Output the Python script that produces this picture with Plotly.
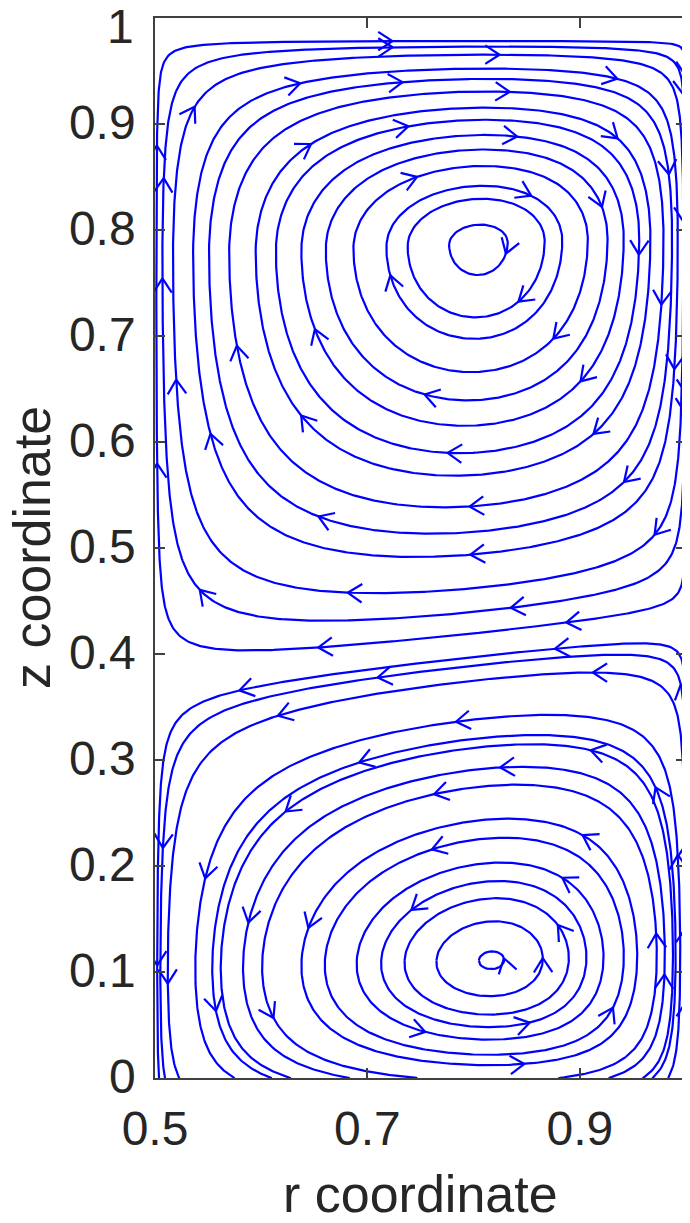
import numpy as np
import plotly.graph_objects as go

# geometry of the two cells
r_min, r_max = 0.5, 1.0
z_top = 0.98               # upper cell closes just under z = 1
z_split_left = 0.375       # dividing line height at r = 0.5
z_split_right = 0.43       # dividing line height at r = 1

upper_centre = (0.805, 0.787)
lower_centre = (0.817, 0.111)

# r where streamlines cross the horizontal line through each centre (left half)
upper_seed_r = [0.507, 0.517, 0.536, 0.551, 0.570, 0.595, 0.614, 0.638,
                0.661, 0.687, 0.718, 0.738, 0.777]
lower_seed_r = [0.505, 0.512, 0.538, 0.554, 0.562, 0.583, 0.601, 0.638,
                0.660, 0.690, 0.713, 0.735, 0.765, 0.805]
# z of the outermost lines crossing the vertical through each centre
upper_seed_z = [0.420]
lower_seed_z = [0.399]

x_ticks = [0.5, 0.7, 0.9]
x_tick_text = ['0.5', '0.7', '0.9']
y_ticks = [0, 0.1, 0.2, 0.3, 0.4, 0.5, 0.6, 0.7, 0.8, 0.9, 1]
y_tick_text = ['0', '0.1', '0.2', '0.3', '0.4', '0.5', '0.6', '0.7', '0.8', '0.9', '1']


def z_split(r):
    s = (r - r_min) / (r_max - r_min)
    return z_split_left + (z_split_right - z_split_left) * s


def radial(s, sc, p=0.5):
    q = p * (1 - sc) / sc
    s = np.clip(s, 1e-9, 1 - 1e-9)
    return (s / sc) ** p * ((1 - s) / (1 - sc)) ** q


def bump(x, c):
    x = np.clip(x, 0, 1)
    return (1 - (1 - x) ** 2) ** c


def psi(r, z):
    s = (r - r_min) / (r_max - r_min)
    zi = z_split(r)
    # upper cell, clockwise
    scu = (upper_centre[0] - r_min) / (r_max - r_min)
    zc = z_split(upper_centre[0])
    tcu = (upper_centre[1] - zc) / (z_top - zc)
    t = (z - zi) / (z_top - zi)
    gu = np.where(t < tcu, bump(t / tcu, 0.87), bump((1 - t) / (1 - tcu), 0.6))
    up = radial(s, scu) * gu
    # lower cell, counter clockwise, open at z = 0
    scl = (lower_centre[0] - r_min) / (r_max - r_min)
    tcl = lower_centre[1] / z_split(lower_centre[0])
    e, bl = 0.08, 0.8
    al = bl * (tcl + e) / (1 - tcl)
    t = np.clip(z / zi, 0, 1)
    gl = (t + e) ** al * (1 - t) ** bl / ((tcl + e) ** al * (1 - tcl) ** bl)
    low = -radial(s, scl) * gl
    return np.where(z >= zi, up, low)


def direction(r, z):
    h = 1e-5
    pr = (psi(r + h, z) - psi(r - h, z)) / (2 * h)
    pz = (psi(r, z + h) - psi(r, z - h)) / (2 * h)
    u, w = -pz, pr
    n = np.hypot(u, w) + 1e-12
    return u / n, w / n


def trace(r0, z0, ds, n_steps):
    r = np.array(r0, float)
    z = np.array(z0, float)
    rs, zs = [r.copy()], [z.copy()]
    alive = np.ones(len(r), bool)
    for _ in range(n_steps):
        k1 = direction(r, z)
        k2 = direction(r + 0.5 * ds * k1[0], z + 0.5 * ds * k1[1])
        k3 = direction(r + 0.5 * ds * k2[0], z + 0.5 * ds * k2[1])
        k4 = direction(r + ds * k3[0], z + ds * k3[1])
        r = r + ds / 6 * (k1[0] + 2 * k2[0] + 2 * k3[0] + k4[0])
        z = z + ds / 6 * (k1[1] + 2 * k2[1] + 2 * k3[1] + k4[1])
        r = np.where(alive, r, np.nan)
        z = np.where(alive, z, np.nan)
        rs.append(r.copy())
        zs.append(z.copy())
        alive &= (r >= r_min) & (r <= r_max) & (z >= 0) & (z <= 1)
    return np.array(rs), np.array(zs)


seed_r = np.array(upper_seed_r + lower_seed_r
                  + [upper_centre[0]] * len(upper_seed_z) + [lower_centre[0]] * len(lower_seed_z))
seed_z = np.array([upper_centre[1]] * len(upper_seed_r) + [lower_centre[1]] * len(lower_seed_r)
                  + upper_seed_z + lower_seed_z)

ds = 0.002
with np.errstate(invalid='ignore', divide='ignore'):
    fr, fz = trace(seed_r, seed_z, ds, 1700)
    br, bz = trace(seed_r, seed_z, -ds, 1700)

paths = []
for j in range(len(seed_r)):
    pr, pz = fr[:, j], fz[:, j]
    d = np.hypot(pr - seed_r[j], pz - seed_z[j])
    closed = None
    for k in range(10, len(d) - 1):
        if np.isnan(d[k + 1]):
            break
        if d[k] < 3 * ds and d[k] <= d[k - 1] and d[k] <= d[k + 1]:
            closed = k
            break
    if closed is not None:
        xr = np.append(pr[:closed], seed_r[j])
        xz = np.append(pz[:closed], seed_z[j])
    else:
        ok_f = ~np.isnan(pr)
        ok_b = ~np.isnan(br[:, j])
        xr = np.concatenate([br[:, j][ok_b][::-1], pr[ok_f][1:]])
        xz = np.concatenate([bz[:, j][ok_b][::-1], pz[ok_f][1:]])
    paths.append((xr, xz))

# streamlines
line_x, line_y = [], []
for xr, xz in paths:
    line_x += list(xr) + [None]
    line_y += list(xz) + [None]

# arrow heads along each line
arrow_x, arrow_y = [], []
spacing, head, ang = 0.3, 0.016, np.radians(33)
for i, (xr, xz) in enumerate(paths):
    seg = np.hypot(np.diff(xr), np.diff(xz))
    arc = np.concatenate([[0], np.cumsum(seg)])
    total = arc[-1]
    start = 0.06 + (0.37 * i) % spacing
    if start > total:
        start = total / 2
    for a in np.arange(start, total - 0.01, spacing):
        k = min(max(np.searchsorted(arc, a), 1), len(xr) - 2)
        dx, dy = xr[k + 1] - xr[k - 1], xz[k + 1] - xz[k - 1]
        n = np.hypot(dx, dy)
        if n == 0:
            continue
        dx, dy = dx / n, dy / n
        for sgn in (1, -1):
            c, s_ = np.cos(sgn * ang), np.sin(sgn * ang)
            wx = dx * c - dy * s_
            wy = dx * s_ + dy * c
            arrow_x += [xr[k] - head * wx, xr[k], None]
            arrow_y += [xz[k] - head * wy, xz[k], None]

fig = go.Figure()
fig.add_trace(go.Scatter(x=line_x, y=line_y, mode='lines',
                         line=dict(color='#0000ff', width=2.2),
                         hoverinfo='skip', showlegend=False))
fig.add_trace(go.Scatter(x=arrow_x, y=arrow_y, mode='lines',
                         line=dict(color='#0000ff', width=2.2),
                         hoverinfo='skip', showlegend=False))

tick_font = dict(family='Liberation Sans', size=48, color='#262626')
axis_style = dict(showgrid=False, zeroline=False, showline=True, mirror='ticks',
                  linecolor='#404040', linewidth=1.5, ticks='inside', ticklen=10,
                  tickcolor='#404040', tickwidth=1.5, automargin=False,
                  ticklabeloverflow='allow', ticklabelstandoff=8, tickfont=tick_font)
title_font = dict(family='Liberation Sans', size=52, color='#262626')

# the page body adds an 8 px offset, so the margins are shifted to compensate
fig.update_layout(
    width=690, height=1223,
    margin=dict(l=147, r=12, t=10, b=153),
    plot_bgcolor='white', paper_bgcolor='white',
    xaxis=dict(range=[r_min, r_max], tickvals=x_ticks, ticktext=x_tick_text,
               **axis_style),
    yaxis=dict(range=[0, 1], tickvals=y_ticks, ticktext=y_tick_text[:-1] + [''],
               ticklabelshift=-2, **axis_style),
)

# the top label would be clipped by the page edge, so it is placed a little lower
fig.add_annotation(text=y_tick_text[-1], xref='paper', yref='y', x=0, y=y_ticks[-1],
                   xanchor='right', yanchor='middle', xshift=-19, yshift=-8,
                   showarrow=False, font=tick_font)

# axis titles as annotations so they sit where the reference has them
fig.add_annotation(text='r coordinate', xref='paper', yref='paper', x=0.5, y=0,
                   xanchor='center', yanchor='middle', yshift=-116,
                   showarrow=False, font=title_font)
fig.add_annotation(text='z coordinate', xref='paper', yref='paper', x=0, y=0.5,
                   xanchor='center', yanchor='middle', xshift=-123, textangle=-90,
                   showarrow=False, font=title_font)

fig.write_html("out.html")
